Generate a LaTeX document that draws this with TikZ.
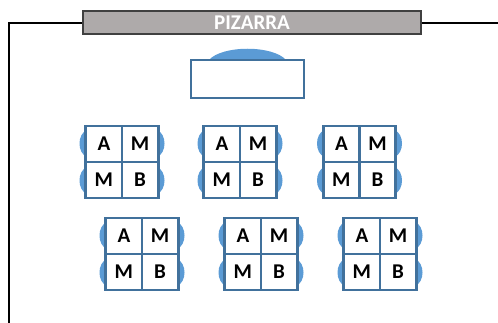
\documentclass[tikz,border=0pt]{standalone}
\usepackage{fontspec}
\setmainfont{Carlito}
\definecolor{deskline}{RGB}{65,113,156}
\definecolor{seat}{RGB}{91,155,213}
\definecolor{boardfill}{RGB}{174,170,170}
\definecolor{boardline}{RGB}{64,64,64}
\tikzset{
  wall/.style={draw=black,line width=2.8pt},
  board/.style={draw=boardline,fill=boardfill,line width=1.5pt,minimum width=338pt,minimum height=23pt,inner sep=0pt,text=white,font=\bfseries\fontsize{21}{21}\selectfont},
  desk/.style={draw=deskline,fill=white,line width=2.8pt,inner sep=0pt,minimum width=36.2pt,minimum height=36pt,font=\bfseries\fontsize{21}{21}\selectfont,text=black},
  teacherdesk/.style={draw=deskline,fill=white,line width=2.8pt,inner sep=0pt,minimum width=113pt,minimum height=38pt},
  seatshape/.style={fill=seat},
}
\newcommand{\studentgroup}[3]{%
  \fill[seatshape] (#2-35,#3-5) .. controls (#2-45,#3-9) and (#2-45,#3-28) .. (#2-35,#3-32) -- cycle;
  \fill[seatshape] (#2-35,#3+5) .. controls (#2-45,#3+9) and (#2-45,#3+28) .. (#2-35,#3+32) -- cycle;
  \fill[seatshape] (#2+35,#3-5) .. controls (#2+45,#3-9) and (#2+45,#3-28) .. (#2+35,#3-32) -- cycle;
  \fill[seatshape] (#2+35,#3+5) .. controls (#2+45,#3+9) and (#2+45,#3+28) .. (#2+35,#3+32) -- cycle;
  \node[desk] (#1a) at (#2-18.1,#3-18) {A};
  \node[desk] (#1b) at (#2+18.1,#3-18) {M};
  \node[desk] (#1c) at (#2-18.1,#3+18) {M};
  \node[desk] (#1d) at (#2+18.1,#3+18) {B};
}
\begin{document}
\begin{tikzpicture}[x=1pt,y=-1pt]
\useasboundingbox (0,0) rectangle (498,323);
\node[board] (pizarra) at (252,22.5) {PIZARRA};
\coordinate (wallcorner) at (9,23);
\coordinate (wallbottom) at (9,323);
\coordinate (wallright) at (498,23);
\draw[wall] (wallbottom) -- (wallcorner) -- (pizarra.west |- wallcorner);
\draw[wall] (pizarra.east |- wallright) -- (wallright);
\fill[seatshape] (209,60) .. controls (222,45) and (273,45) .. (286,60) -- cycle;
\node[teacherdesk] (teacher) at (247.5,79) {};
\studentgroup{p}{122}{162}
\studentgroup{q}{240}{162}
\studentgroup{r}{359.5}{162}
\studentgroup{s}{142}{254}
\studentgroup{t}{261}{254}
\studentgroup{u}{380}{254}
\end{tikzpicture}
\end{document}
